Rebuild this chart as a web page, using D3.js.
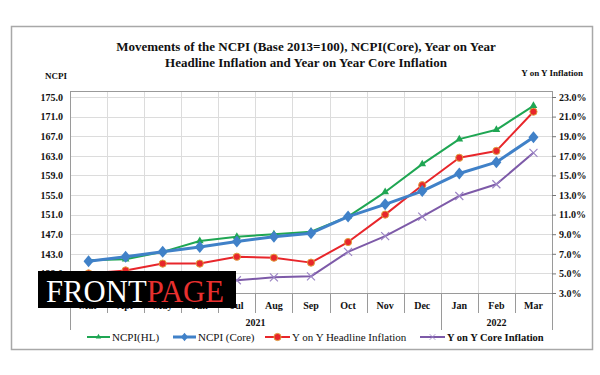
<!DOCTYPE html>
<meta charset="utf-8">
<head>
<style>
  body { margin: 0; background: #fff; }
  text { font-family: "Liberation Serif", "Times New Roman", serif; fill: #111; }
  .tick text { font-weight: bold; font-size: 10px; }
</style>
</head>
<body>
<div id="chart"></div>
<script src="https://d3js.org/d3.v7.min.js"></script>
<script>
 // data
 var months = ["Mar","Apr","May","Jun","Jul","Aug","Sep","Oct","Nov","Dec","Jan","Feb","Mar"];
 var years = [{label: "2021", from: 0, to: 10}, {label: "2022", from: 10, to: 13}];
 var ncpiHL = [141.7, 141.9, 143.4, 145.6, 146.5, 147.0, 147.5, 150.6, 155.6, 161.3, 166.4, 168.3, 173.2];
 var ncpiCore = [141.5, 142.4, 143.4, 144.4, 145.5, 146.5, 147.2, 150.6, 153.1, 155.8, 159.4, 161.7, 166.8];
 var yoyHL = [5.0, 5.3, 6.0, 6.0, 6.7, 6.6, 6.1, 8.2, 11.0, 14.0, 16.8, 17.5, 21.5];
 var yoyCore = [3.9, 4.0, 4.2, 4.1, 4.3, 4.6, 4.7, 7.2, 8.8, 10.8, 12.9, 14.1, 17.3];
 var leftTicks = [139, 143, 147, 151, 155, 159, 163, 167, 171, 175];
 var rightTicks = [3, 5, 7, 9, 11, 13, 15, 17, 19, 21, 23];

 var width = 600, height = 375;
 var L = 70, R = 552, T = 91, B = 293;

 var svg = d3.select("#chart").append("svg")
             .attr("width", width)
             .attr("height", height);

 // outer frame
 svg.append("rect").attr("x", 11.5).attr("y", 26.5).attr("width", 581).attr("height", 323)
    .attr("fill", "#fff").attr("stroke", "#a8a8a8").attr("stroke-width", 1.5);

 var idx = d3.range(months.length);
 var x = d3.scaleBand().domain(idx).range([L, R]);
 var yL = d3.scaleLinear().domain([135, 175]).range([B, 97]);
 var yR = d3.scaleLinear().domain([3, 23]).range([B, 97]);
 var cx = i => x(i) + x.bandwidth() / 2;

 // grid
 var grid = svg.append("g").attr("stroke", "#dcdcdc").attr("stroke-width", 1);
 grid.selectAll("line.h").data(leftTicks).join("line")
     .attr("x1", L).attr("x2", R)
     .attr("y1", d => Math.round(yL(d)) + 0.5).attr("y2", d => Math.round(yL(d)) + 0.5);
 grid.selectAll("line.v").data(idx.slice(1)).join("line")
     .attr("x1", d => Math.round(x(d)) + 0.5).attr("x2", d => Math.round(x(d)) + 0.5)
     .attr("y1", T).attr("y2", B);

 // plot box
 svg.append("rect").attr("x", L + 0.5).attr("y", T + 0.5).attr("width", R - L).attr("height", B - T)
    .attr("fill", "none").attr("stroke", "#9a9a9a");

 // category ticks below the axis
 svg.append("g").attr("stroke", "#9a9a9a").selectAll("line").data(idx.slice(1)).join("line")
    .attr("x1", d => Math.round(x(d)) + 0.5).attr("x2", d => Math.round(x(d)) + 0.5)
    .attr("y1", B).attr("y2", 313);
 var seps = [0, 10, 13];
 svg.append("g").attr("stroke", "#9a9a9a").selectAll("line").data(seps).join("line")
    .attr("x1", d => Math.round(d === 13 ? R : x(d)) + 0.5).attr("x2", d => Math.round(d === 13 ? R : x(d)) + 0.5)
    .attr("y1", B).attr("y2", 330);

 // axes
 var axL = svg.append("g").attr("transform", `translate(${L},0)`)
              .call(d3.axisLeft(yL).tickValues(leftTicks).tickFormat(d3.format(".1f")).tickSize(0).tickPadding(7));
 axL.select(".domain").remove();
 var axR = svg.append("g").attr("transform", `translate(${R},0)`)
              .call(d3.axisRight(yR).tickValues(rightTicks).tickFormat(d => d.toFixed(1) + "%").tickSize(4).tickPadding(3));
 axR.select(".domain").remove();
 axR.selectAll(".tick line").attr("stroke", "#777");

 svg.selectAll(".month").data(idx).join("text")
    .attr("x", cx).attr("y", 309).attr("text-anchor", "middle")
    .style("font-weight", "bold").style("font-size", "10px")
    .text(d => months[d]);
 svg.selectAll(".year").data(years).join("text")
    .attr("x", d => (x(d.from) + (d.to === 13 ? R : x(d.to))) / 2).attr("y", 326)
    .attr("text-anchor", "middle").style("font-weight", "bold").style("font-size", "10px")
    .text(d => d.label);

 // titles
 svg.append("text").attr("x", 306).attr("y", 51).attr("text-anchor", "middle")
    .style("font-weight", "bold").style("font-size", "13px")
    .text("Movements of the NCPI (Base 2013=100), NCPI(Core), Year on Year");
 svg.append("text").attr("x", 306).attr("y", 67).attr("text-anchor", "middle")
    .style("font-weight", "bold").style("font-size", "13px")
    .text("Headline Inflation and Year on Year Core Inflation");
 svg.append("text").attr("x", 45).attr("y", 79)
    .style("font-weight", "bold").style("font-size", "9px").text("NCPI");
 svg.append("text").attr("x", 583).attr("y", 76).attr("text-anchor", "end")
    .style("font-weight", "bold").style("font-size", "9px").text("Y on Y Inflation");

 // series
 var series = [
     {name: "NCPI(HL)", values: ncpiHL, y: yL, color: "#1fa653", marker: "tri", w: 2},
     {name: "NCPI (Core)", values: ncpiCore, y: yL, color: "#4081c8", marker: "dia", w: 3},
     {name: "Y on Y Headline Inflation", values: yoyHL, y: yR, color: "#e8262b", marker: "dot", w: 2},
     {name: "Y on Y Core Inflation", values: yoyCore, y: yR, color: "#7d5aa8", marker: "x", w: 2}
 ];
 var drawOrder = [3, 2, 0, 1];

 function marker(g, s, px, py) {
     if (s.marker === "tri") {
         g.append("path").attr("d", d3.symbol(d3.symbolTriangle, 26)()).attr("transform", `translate(${px},${py})`).attr("fill", s.color);
     } else if (s.marker === "dia") {
         g.append("path").attr("d", "M0,-6L5,0L0,6L-5,0Z").attr("transform", `translate(${px},${py})`).attr("fill", s.color);
     } else if (s.marker === "dot") {
         g.append("circle").attr("cx", px).attr("cy", py).attr("r", 3.6).attr("fill", s.color).attr("stroke", "#e0a040").attr("stroke-width", 1);
     } else {
         g.append("path").attr("d", "M-4,-4L4,4M-4,4L4,-4").attr("transform", `translate(${px},${py})`).attr("stroke", "#9b84c4").attr("stroke-width", 1.2).attr("fill", "none");
     }
 }

 drawOrder.forEach(function(k) {
     var s = series[k];
     var line = d3.line().x((d, i) => cx(i)).y(d => s.y(d));
     svg.append("path").datum(s.values).attr("d", line)
        .attr("fill", "none").attr("stroke", s.color).attr("stroke-width", s.w).attr("stroke-linejoin", "round");
     var g = svg.append("g");
     s.values.forEach((v, i) => marker(g, s, cx(i), s.y(v)));
 });

 // legend
 var legendPos = [[87, 112], [173, 198], [265, 292], [420, 447]];
 series.forEach(function(s, k) {
     var lx = legendPos[k][0], tx = legendPos[k][1], ly = 337;
     svg.append("line").attr("x1", lx).attr("x2", tx - 2).attr("y1", ly).attr("y2", ly)
        .attr("stroke", s.color).attr("stroke-width", s.w);
     var g = svg.append("g");
     marker(g, s, (lx + tx - 2) / 2, ly);
     g.select("path, circle").attr("transform", function() {
         var t = d3.select(this).attr("transform");
         return t ? t + " scale(0.7)" : null;
     });
     svg.append("text").attr("x", tx).attr("y", ly + 4)
        .style("font-size", k === 3 ? "10.5px" : "11px")
        .style("font-weight", k === 3 ? "bold" : "normal").text(s.name);
 });

 // watermark logo
 svg.append("rect").attr("x", 38).attr("y", 271).attr("width", 198).attr("height", 37).attr("fill", "#000");
 var logo = svg.append("text").attr("x", 46).attr("y", 302)
               .style("font-family", "'Liberation Serif', serif").style("font-size", "31px")
               .attr("textLength", 178).attr("lengthAdjust", "spacingAndGlyphs");
 logo.append("tspan").style("fill", "#fff").text("FRONT");
 logo.append("tspan").style("fill", "#e8302f").text("PAGE");
</script>
</body>
